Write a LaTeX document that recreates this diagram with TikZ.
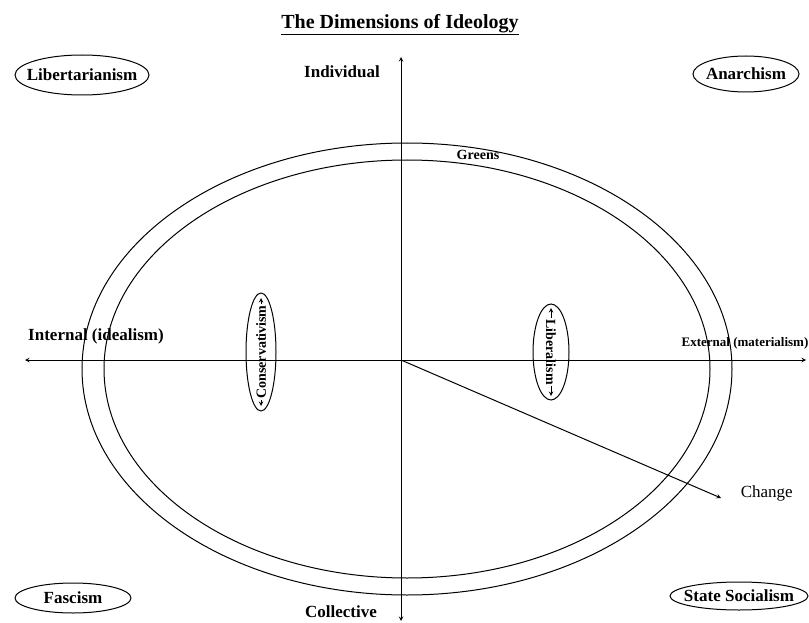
\documentclass[tikz,border=0pt]{standalone}
\usepackage{fontspec}
\setmainfont{Liberation Serif}

\begin{document}
\begin{tikzpicture}[x=1pt, y=-1pt, >=stealth, line width=1pt,
    lbl/.style={font=\bfseries\fontsize{17}{20}\selectfont},
    small/.style={font=\bfseries\fontsize{14}{16}\selectfont}]
	\useasboundingbox (0,0) rectangle (809,623);

	% Title
	\node[font=\bfseries\fontsize{20}{23}\selectfont] (title) at (400,25) {\underline{The Dimensions of Ideology}};

	% Axes
	\coordinate (O) at (401,360);
	\coordinate (top) at (401,57);
	\coordinate (bot) at (401,621);
	\coordinate (lft) at (25,360);
	\coordinate (rgt) at (806,360);
	\draw[<->] (bot) -- (top);
	\draw[<->] (lft) -- (rgt);

	% Axis labels
	\node[lbl] (indiv) at (342,72) {Individual};
	\node[lbl] (coll) at (341,612) {Collective};
	\node[lbl] (intern) at (96,336) {Internal (idealism)};
	\node[font=\bfseries\fontsize{13}{15}\selectfont] (extern) at (745,343) {External (materialism)};

	% Greens band
	\draw (407,369) ellipse [x radius=325, y radius=226];
	\draw (407,369) ellipse [x radius=303, y radius=209];
	\node[small] (greens) at (478,155) {Greens};

	% Conservativism
	\node[small, rotate=90, inner sep=1pt] (cons) at (261,352) {Conservativism};
	\draw (cons) ellipse [x radius=15, y radius=59];
	\coordinate (constop) at (261,298);
	\coordinate (consbot) at (261,406);
	\draw[->] (cons.east) -- (constop);
	\draw[->] (cons.west) -- (consbot);

	% Liberalism
	\node[small, rotate=-90, inner sep=1pt] (lib) at (551,352) {Liberalism};
	\draw (lib) ellipse [x radius=18, y radius=48];
	\coordinate (libtop) at (551,308);
	\coordinate (libbot) at (551,396);
	\draw[->] (lib.west) -- (libtop);
	\draw[->] (lib.east) -- (libbot);

	% Change
	\coordinate (chg) at (721,498);
	\draw[->] (O) -- (chg);
	\node[font=\fontsize{17}{20}\selectfont, anchor=west] (change) at (737,493) {Change};

	% Corner ideologies
	\node[lbl] (liber) at (82,75) {Libertarianism};
	\draw (liber) ellipse [x radius=67, y radius=20];
	\node[lbl] (anar) at (746,74) {Anarchism};
	\draw (anar) ellipse [x radius=53, y radius=18];
	\node[lbl] (fasc) at (73,598) {Fascism};
	\draw (fasc) ellipse [x radius=58, y radius=15];
	\node[lbl] (stsoc) at (739,596) {State Socialism};
	\draw (stsoc) ellipse [x radius=69, y radius=14];
\end{tikzpicture}
\end{document}
